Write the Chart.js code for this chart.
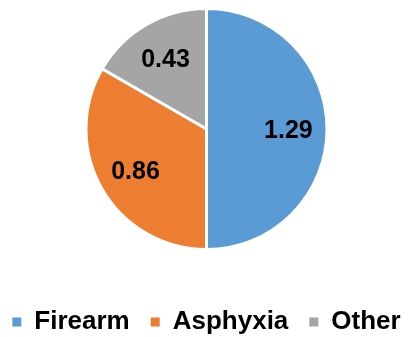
<!DOCTYPE html>
<html>
<head>
<meta charset="utf-8">
<script src="https://cdn.jsdelivr.net/npm/chart.js@4"></script>
<style>
  html, body { margin: 0; padding: 0; background: #fff; }
  #wrap { width: 413px; height: 337px; }
</style>
</head>
<body>
<div id="wrap"><canvas id="pieChart"></canvas></div>
<script>
const categories = ['Firearm', 'Asphyxia', 'Other'];
const values = [1.29, 0.86, 0.43];
const colors = ['#5B9BD5', '#ED7D31', '#A5A5A5'];

const FONT = '"Liberation Sans", Arial, sans-serif';

// value text inside each slice
const sliceLabels = {
    id: 'sliceLabels',
    afterDatasetsDraw(chart) {
        const ctx = chart.ctx;
        const meta = chart.getDatasetMeta(0);
        ctx.save();
        ctx.font = 'bold 25px ' + FONT;
        ctx.fillStyle = '#000';
        ctx.textAlign = 'center';
        ctx.textBaseline = 'middle';
        meta.data.forEach((arc, i) => {
            const p = arc.getProps(['x', 'y', 'startAngle', 'endAngle', 'outerRadius'], true);
            const mid = (p.startAngle + p.endAngle) / 2;
            const r = p.outerRadius * 0.68;
            ctx.fillText(values[i].toFixed(2), p.x + Math.cos(mid) * r, p.y + Math.sin(mid) * r + 2);
        });
        ctx.restore();
    }
};

// fixed legend height so the pie keeps its size
const legendFit = {
    id: 'legendFit',
    beforeInit(chart) {
        const legend = chart.legend;
        const fit = legend.fit;
        legend.fit = function () {
            fit.apply(this, arguments);
            this.height = 86;
        };
    }
};

new Chart(document.getElementById('pieChart'), {
    type: 'pie',
    data: {
        labels: categories,
        datasets: [{
            data: values,
            backgroundColor: colors,
            borderColor: '#fff',
            borderWidth: 3
        }]
    },
    options: {
        responsive: true,
        maintainAspectRatio: false,
        animation: false,
        layout: { padding: { top: 7, bottom: 0, left: -12, right: -12 } },
        plugins: {
            tooltip: { enabled: false },
            legend: {
                position: 'bottom',
                // empty title used as a spacer above the items
                title: {
                    display: true,
                    text: '',
                    font: { size: 10 },
                    padding: { top: 25, bottom: 0 }
                },
                labels: {
                    boxWidth: 9,
                    boxHeight: 9,
                    padding: 21,
                    color: '#000',
                    font: { family: FONT, size: 26, weight: 'bold' },
                    generateLabels(chart) {
                        const items = Chart.overrides.pie.plugins.legend.labels.generateLabels(chart);
                        items.forEach(it => { it.lineWidth = 0; });
                        return items;
                    }
                }
            }
        }
    },
    plugins: [sliceLabels, legendFit]
});
</script>
</body>
</html>
